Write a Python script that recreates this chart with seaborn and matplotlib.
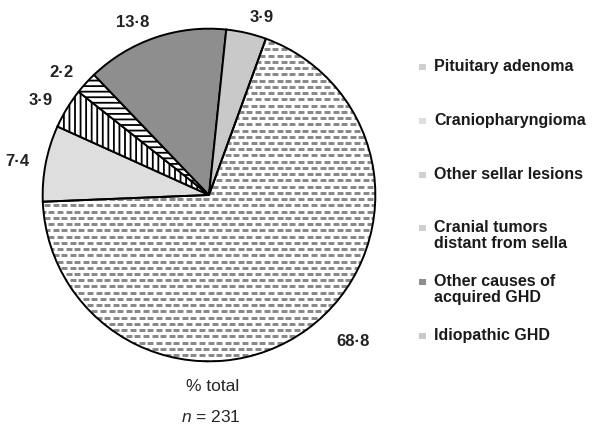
import numpy as np
import matplotlib
matplotlib.use("Agg")
import matplotlib.pyplot as plt
import seaborn as sns
from matplotlib.patches import Rectangle

sns.set_style("white")
plt.rcParams['font.family'] = ['Liberation Sans', 'DejaVu Sans']
plt.rcParams['mathtext.fontset'] = 'custom'
plt.rcParams['mathtext.it'] = 'Liberation Sans:italic'
plt.rcParams['mathtext.rm'] = 'Liberation Sans'
plt.rcParams['hatch.linewidth'] = 1.3

# data (% of total, n = 231)
causes = ['Pituitary adenoma', 'Craniopharyngioma', 'Other sellar lesions',
          'Cranial tumors\ndistant from sella', 'Other causes of\nacquired GHD',
          'Idiopathic GHD']
pct = [68.8, 7.4, 3.9, 2.2, 13.8, 3.9]
pct_labels = ['68·8', '7·4', '3·9', '2·2', '13·8', '3·9']

fills = ['white', '#dedede', 'white', 'white', '#8e8e8e', '#c9c9c9']
hatches = [None, None, '|||', '---', None, None]

fig = plt.figure(figsize=(6.02, 4.31), dpi=100)
ax = fig.add_axes([41 / 602, 67 / 431, 336 / 602, 336 / 431])

wedges, texts = ax.pie(pct, labels=pct_labels, startangle=70, counterclock=False,
                       colors=fills, labeldistance=1.1,
                       wedgeprops=dict(edgecolor='black', linewidth=1.4),
                       textprops=dict(fontsize=12, fontweight='bold', color='#222222'))
for w, h in zip(wedges, hatches):
    if h:
        w.set_hatch(h)

# the big slice's label sits a bit past its middle, further out
w0 = wedges[0]
a = np.deg2rad(w0.theta2 - 0.466 * (w0.theta2 - w0.theta1))
texts[0].set_position((1.23 * np.cos(a), 1.23 * np.sin(a)))
texts[0].set_ha('center')

# dashed texture of the pituitary adenoma slice
step_x, step_y = 2 * 8.7 / 336, 2 * 6.3 / 336
rows = np.arange(-1, 1.01, step_y)
gx, gy = [], []
for i, yy in enumerate(rows):
    xs = np.arange(-1 + (i % 2) * step_x / 2, 1.01, step_x)
    gx.extend(xs)
    gy.extend([yy] * len(xs))
dots = ax.scatter(gx, gy, marker='_', s=16, linewidths=2.0, color='#8a8a8a', zorder=1.5)
dots.set_clip_path(wedges[0])
for w in wedges:
    w.set_zorder(1)
wedges[0].set_zorder(2)
wedges[0].set_facecolor('none')
back = ax.pie([pct[0], 100 - pct[0]], startangle=70, counterclock=False,
              colors=['white', 'none'])[0]
for b in back:
    b.set_zorder(0.5)
    b.set_edgecolor('none')

ax.set_xlim(-1.01, 1.01)
ax.set_ylim(-1.01, 1.01)
ax.set_aspect('equal')
ax.axis('off')

# legend drawn by hand
for i, (name, fc, h) in enumerate(zip(causes, fills, hatches)):
    y = 1 - (68 + i * 53.8) / 431
    col = fc if fc != 'white' else '#d0d0d0'
    fig.patches.append(Rectangle((419 / 602, y - 3 / 431), 7 / 602, 6 / 431,
                                 transform=fig.transFigure, facecolor=col,
                                 edgecolor='none'))
    fig.text(434 / 602, y + 9 / 431, name, fontsize=11.5, fontweight='bold',
             color='#1a1a1a', va='top', ha='left', linespacing=1.05)

fig.text(213 / 602, 1 - 387 / 431, '% total', fontsize=12.5, ha='center', va='center')
fig.text(211 / 602, 1 - 417 / 431, r'$n$ = 231', fontsize=12.5, ha='center', va='center')

fig.savefig('out.png', dpi=100)
